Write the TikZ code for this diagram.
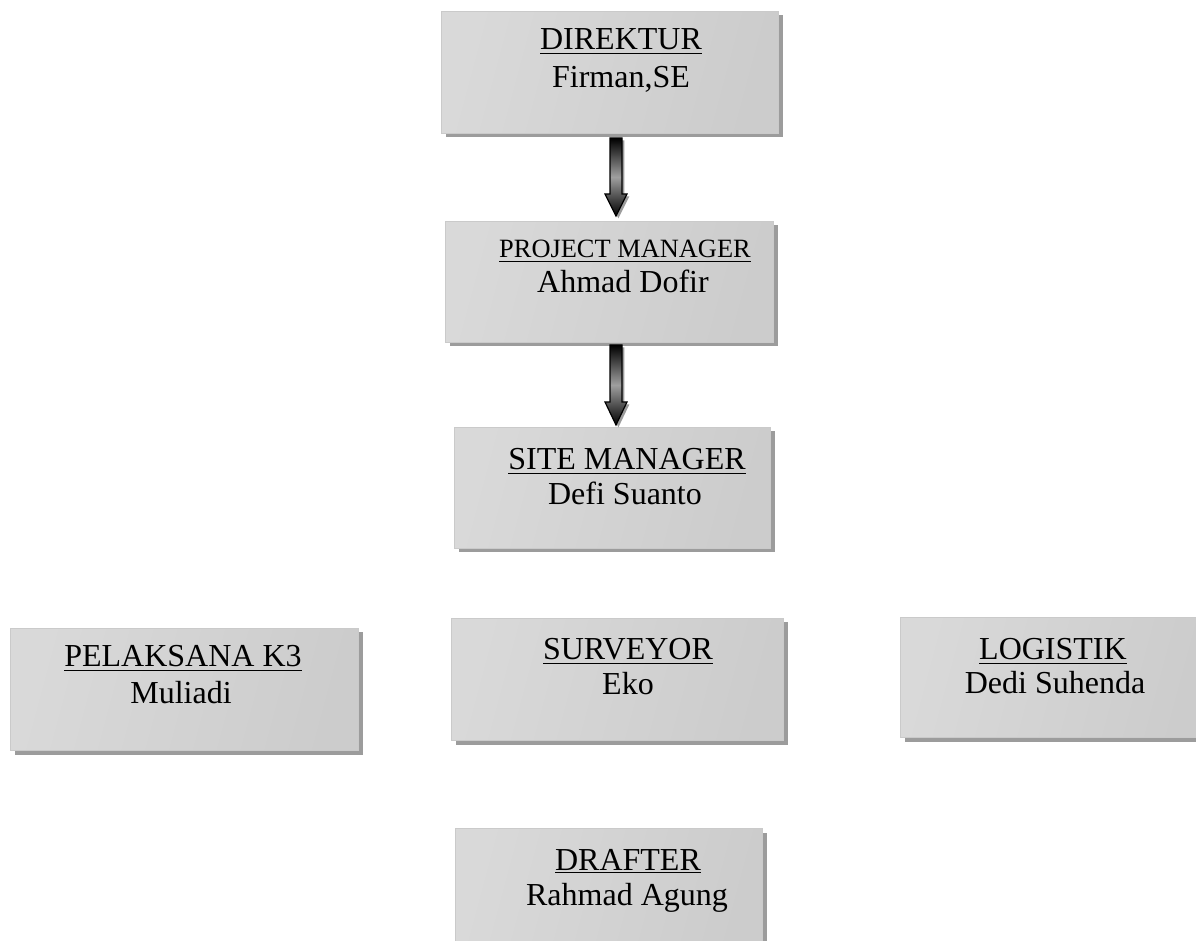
\documentclass[tikz,border=0pt]{standalone}
\usepackage{fontspec}
\setmainfont{Liberation Serif}
\usepackage{tikz}
\usetikzlibrary{calc,shadows}
\definecolor{OrgEdge}{HTML}{CACACA}
\definecolor{OrgShadow}{HTML}{9C9C9C}
\definecolor{OrgLight}{HTML}{FAFAFA}
\definecolor{OrgLeft}{HTML}{D9D9D9}
\definecolor{OrgRight}{HTML}{CCCCCC}

\begin{document}
\begin{tikzpicture}[x=0.5pt,y=-0.5pt,
  orgbox/.style={anchor=north west,draw=OrgEdge,line width=0.5pt,inner sep=0pt,
    left color=OrgLeft,middle color=OrgLight,right color=OrgRight,shading angle=75,
    drop shadow={fill=OrgShadow,opacity=1,shadow xshift=2pt,shadow yshift=-2pt},
    minimum height=61pt},
  bigtext/.style={anchor=base,inner sep=0pt,font=\fontsize{16}{18}\selectfont},
  smalltext/.style={anchor=base,inner sep=0pt,font=\fontsize{13.2}{15}\selectfont},
  arrowbody/.style={draw=black,line width=0.6pt,top color=black,bottom color=black,middle color=gray!75},
  arrowshade/.style={fill=OrgShadow,transform canvas={shift={(1.2pt,-1.2pt)}}}]
\path[use as bounding box] (0,0) rectangle (1196,941);

\node[orgbox,minimum width=168.5pt] (direktur) at (441,11) {};
\node[bigtext] (direktur-title) at (621,50) {\underline{DIREKTUR}};
\node[bigtext] (direktur-name) at (621,88) {Firman,SE};

\node[orgbox,minimum width=164pt,minimum height=60.5pt] (pm) at (445,221) {};
\node[smalltext] (pm-title) at (625,258) {\underline{PROJECT MANAGER}};
\node[bigtext] (pm-name) at (623,293) {Ahmad Dofir};

\node[orgbox,minimum width=158pt,minimum height=60.5pt] (site) at (454,427) {};
\node[bigtext] (site-title) at (627,470) {\underline{SITE MANAGER}};
\node[bigtext] (site-name) at (625,505) {Defi Suanto};

\node[orgbox,minimum width=174pt] (k3) at (10,628) {};
\node[bigtext] (k3-title) at (183,667) {\underline{PELAKSANA K3}};
\node[bigtext] (k3-name) at (181,704) {Muliadi};

\node[orgbox,minimum width=166pt] (surveyor) at (451,618) {};
\node[bigtext] (surveyor-title) at (628,660) {\underline{SURVEYOR}};
\node[bigtext] (surveyor-name) at (628,695) {Eko};

\node[orgbox,minimum width=153pt,minimum height=60pt] (logistik) at (900,617) {};
\node[bigtext] (logistik-title) at (1053,660) {\underline{LOGISTIK}};
\node[bigtext] (logistik-name) at (1055,693) {Dedi Suhenda};

\node[orgbox,minimum width=153.5pt] (drafter) at (455,828) {};
\node[bigtext] (drafter-title) at (628,870) {\underline{DRAFTER}};
\node[bigtext] (drafter-name) at (627,905) {Rahmad Agung};

\coordinate (arrowx) at (616,0);
\fill[arrowshade] ($(arrowx |- direktur.south)+(-6,4)$) -- ($(arrowx |- pm.north)+(-6,-27)$) -- ($(arrowx |- pm.north)+(-11,-27)$)
  -- ($(arrowx |- pm.north)+(0,-5)$) -- ($(arrowx |- pm.north)+(11,-27)$) -- ($(arrowx |- pm.north)+(6,-27)$) -- ($(arrowx |- direktur.south)+(6,4)$) -- cycle;
\draw[arrowbody] ($(arrowx |- direktur.south)+(-6,4)$) -- ($(arrowx |- pm.north)+(-6,-27)$) -- ($(arrowx |- pm.north)+(-11,-27)$)
  -- ($(arrowx |- pm.north)+(0,-5)$) -- ($(arrowx |- pm.north)+(11,-27)$) -- ($(arrowx |- pm.north)+(6,-27)$) -- ($(arrowx |- direktur.south)+(6,4)$) -- cycle;
\fill[arrowshade] ($(arrowx |- pm.south)+(-6,2)$) -- ($(arrowx |- site.north)+(-6,-25)$) -- ($(arrowx |- site.north)+(-11,-25)$)
  -- ($(arrowx |- site.north)+(0,-2)$) -- ($(arrowx |- site.north)+(11,-25)$) -- ($(arrowx |- site.north)+(6,-25)$) -- ($(arrowx |- pm.south)+(6,2)$) -- cycle;
\draw[arrowbody] ($(arrowx |- pm.south)+(-6,2)$) -- ($(arrowx |- site.north)+(-6,-25)$) -- ($(arrowx |- site.north)+(-11,-25)$)
  -- ($(arrowx |- site.north)+(0,-2)$) -- ($(arrowx |- site.north)+(11,-25)$) -- ($(arrowx |- site.north)+(6,-25)$) -- ($(arrowx |- pm.south)+(6,2)$) -- cycle;
\end{tikzpicture}
\end{document}
